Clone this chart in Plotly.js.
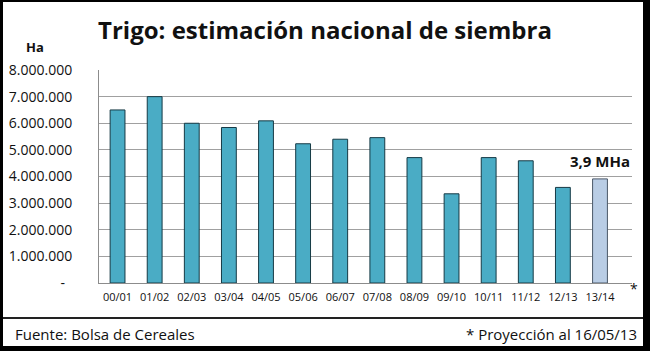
<!DOCTYPE html>
<html><head><meta charset="utf-8">
<script src="https://cdn.plot.ly/plotly-3.0.1.min.js"></script>
<style>
html,body{margin:0;padding:0;background:#fff;}
#wrap{position:relative;width:650px;height:351px;overflow:hidden;}
#chart{position:absolute;left:0;top:0;width:650px;height:351px;}
#frame{position:absolute;left:0;top:0;width:650px;height:351px;box-sizing:border-box;border-style:solid;border-color:#000;border-width:2px 7px 5px 3px;pointer-events:none;}
#sep{position:absolute;left:3px;width:640px;top:317px;height:2px;background:#222;pointer-events:none;}
</style></head>
<body><div id="wrap"><div id="chart"></div><div id="sep"></div><div id="frame"></div></div>
<script>
const campaigns = ['00/01','01/02','02/03','03/04','04/05','05/06','06/07','07/08','08/09','09/10','10/11','11/12','12/13','13/14'];
const hectares = [6500000,7000000,6000000,5840000,6090000,5230000,5400000,5460000,4710000,3350000,4710000,4590000,3590000,3910000];
const yTickVals = [0,1000000,2000000,3000000,4000000,5000000,6000000,7000000,8000000];
const yTickText = ['-  ','1.000.000','2.000.000','3.000.000','4.000.000','5.000.000','6.000.000','7.000.000','8.000.000'];
const titleText = 'Trigo: estimación nacional de siembra';
const projLabel = '3,9 MHa';

const W=650,H=351, ML=99, MR=18, MT=70, MB=68;
const PW=W-ML-MR, PH=H-MT-MB, PB=H-MB;
const px = x => (x-ML)/PW;
const py = y => (PB-y)/PH;
const font = 'Open Sans, Liberation Sans, sans-serif';

const last = hectares.length-1;
const colors = hectares.map((v,i)=> i===last ? '#B9CDE5' : '#4AACC5');
const lines = hectares.map((v,i)=> i===last ? '#4a5868' : '#163a45');

const data = [{
  type:'bar', x:campaigns, y:hectares,
  marker:{color:colors, line:{color:lines, width:1}},
  hoverinfo:'x+y'
}];

const layout = {
  width:W, height:H,
  margin:{l:ML, r:MR, t:MT, b:MB, pad:0},
  paper_bgcolor:'#fff', plot_bgcolor:'#fff',
  bargap:0.6,
  showlegend:false,
  title:{text:'<b>'+titleText+'</b>', font:{family:font, size:24, color:'#111'}, x:325/W, xanchor:'center', xref:'container', y:1-31/H, yanchor:'middle', yref:'container'},
  xaxis:{type:'category', showgrid:false, showline:true, linecolor:'#8c8c8c', linewidth:1,
    ticks:'', tickfont:{family:font, size:11, color:'#111'}, ticklabelstandoff:4, fixedrange:true},
  yaxis:{range:[0,8000000], tickvals:yTickVals, ticktext:yTickText, showgrid:true, gridcolor:'#a0a0a0', gridwidth:1,
    showline:true, linecolor:'#8c8c8c', linewidth:1, ticks:'', zeroline:false,
    tickfont:{family:font, size:14, color:'#111'}, ticklabelstandoff:23, fixedrange:true},
  annotations:[
    {text:'<b>Ha</b>', xref:'paper', yref:'paper', x:px(35), y:py(47), xanchor:'center', yanchor:'middle', showarrow:false, font:{family:font, size:13, color:'#111'}},
    {text:'<b>'+projLabel+'</b>', xref:'x', yref:'y', x:campaigns[last], y:hectares[last], xanchor:'center', yanchor:'bottom', yshift:6, showarrow:false, font:{family:font, size:15, color:'#111'}},
    {text:'*', xref:'paper', yref:'paper', x:px(634), y:py(288), xanchor:'center', yanchor:'middle', showarrow:false, font:{family:font, size:14, color:'#111'}},
    {text:'Fuente: Bolsa de Cereales', xref:'paper', yref:'paper', x:px(13), y:py(334), xanchor:'left', yanchor:'middle', showarrow:false, font:{family:font, size:15, color:'#111'}},
    {text:'* Proyección al 16/05/13', xref:'paper', yref:'paper', x:px(639), y:py(334), xanchor:'right', yanchor:'middle', showarrow:false, font:{family:font, size:15, color:'#111'}}
  ]
};
Plotly.newPlot('chart', data, layout, {displayModeBar:false, staticPlot:true});
</script></body></html>
